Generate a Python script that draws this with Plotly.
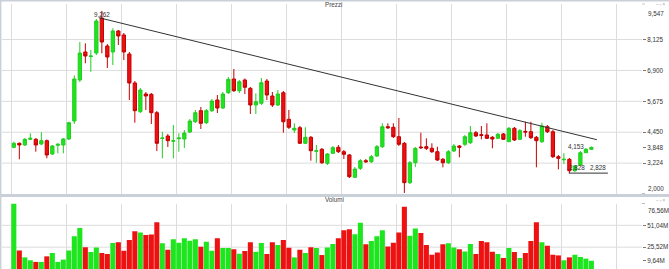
import plotly.graph_objects as go

# ---------------- data ----------------
opens = [3852, 4011, 3943, 4169, 4169, 3983, 4114, 3586, 3931, 3943,
         4181, 4895, 6521, 7632, 7453, 7592, 8980, 7870, 7632, 8465,
         8306, 7552, 6402, 5264, 5966, 5954, 5224, 4201, 4300, 4090,
         4193, 4181, 4459, 4867, 5304, 4828, 5304, 5728, 5411, 6018,
         6561, 6097, 6521, 6192, 5530, 5597, 6481, 5887, 5530, 6018,
         4963, 4538, 4629, 4011, 4249, 3693, 3773, 3218, 3614, 3852,
         3678, 3547, 2662, 3019, 3321, 3281, 3507, 3876, 4669, 4645,
         4272, 4011, 2448, 3241, 3864, 3876, 3812, 3678, 3376, 3241,
         3705, 3904, 3971, 4034, 4431, 4352, 4340, 4249, 4209, 4380,
         4074, 4606, 4169, 4483, 4471, 4249, 4074, 4669, 4471, 3479,
         3356, 3376, 2924, 3150, 3638, 3773]
closes = [4011, 3943, 4169, 4209, 3943, 4114, 3547, 3904, 3971, 4181,
          4828, 6561, 7592, 7473, 7473, 8861, 8028, 7433, 8465, 8266,
          7632, 6402, 5304, 6125, 5887, 5224, 4011, 4221, 4114, 4114,
          4221, 4419, 4895, 5224, 4804, 5304, 5688, 5411, 5966, 6549,
          6097, 6454, 6232, 5530, 5661, 6414, 5926, 5530, 5966, 4867,
          4645, 4606, 4011, 4249, 3717, 3717, 3241, 3586, 3836, 3678,
          3575, 2686, 2991, 3321, 3281, 3479, 3876, 4669, 4629, 4272,
          3971, 2448, 3241, 3812, 3836, 3812, 3678, 3348, 3241, 3678,
          3904, 3852, 4272, 4431, 4300, 4328, 4209, 4181, 4368, 4169,
          4606, 4142, 4510, 4459, 4233, 4114, 4697, 4471, 3479, 3416,
          3376, 2924, 3110, 3638, 3773, 3848]
highs = [4074, 4042, 4221, 4407, 4221, 4447, 4161, 3943, 4011, 4221,
         4867, 6700, 8028, 7977, 7711, 8940, 9262, 7949, 8572, 8504,
         8385, 7632, 6481, 6204, 6045, 6006, 5292, 4471, 4380, 4736,
         4407, 4538, 4974, 5331, 5450, 5371, 5768, 5926, 6045, 6640,
         6957, 6521, 6581, 6244, 5994, 6601, 6561, 6045, 6125, 6085,
         5331, 4804, 4697, 4645, 4300, 3943, 3824, 3626, 3904, 3943,
         3745, 3586, 3071, 3388, 3388, 3547, 3943, 4804, 4804, 4804,
         5014, 4062, 3309, 3864, 4431, 4209, 4011, 3876, 3428, 3745,
         3983, 3943, 4340, 4697, 4499, 4697, 4804, 4300, 4419, 4419,
         4657, 4657, 4578, 4867, 4867, 4300, 4828, 4736, 4538, 3547,
         3614, 3428, 3150, 3705, 3824, 3884]
lows = [3812, 3376, 3904, 4142, 3678, 3943, 3416, 3547, 3614, 3614,
        4142, 4776, 6442, 7184, 6850, 7513, 7580, 6997, 7116, 7909,
        7314, 5728, 4828, 5212, 5331, 4776, 3705, 3416, 3864, 3416,
        3678, 3824, 4419, 4816, 4578, 4776, 5252, 5212, 5371, 5966,
        6045, 6006, 5966, 5173, 5173, 5530, 5728, 5450, 5490, 4431,
        4578, 4419, 3983, 3983, 3321, 3241, 3190, 3150, 3586, 3626,
        3388, 2634, 2634, 2952, 3229, 3229, 3467, 3824, 4578, 4221,
        3904, 2040, 2397, 3071, 3785, 3745, 3626, 3309, 3059, 3190,
        3666, 3456, 3904, 3983, 4261, 4169, 4181, 3812, 4181, 4142,
        4062, 4102, 4142, 4272, 4181, 3059, 4023, 4419, 3428, 2980,
        3190, 2828, 2872, 3110, 3626, 3745]
volumes = [76.56, 21.6, 13.6, 10.2, 8.3, 8.3, 14.8, 18.6, 8.3, 11.0,
           21.6, 38.4, 48.0, 25.5, 19.8, 25.0, 18.6, 17.5, 30.4, 31.2,
           21.3, 33.9, 44.2, 42.7, 39.6, 40.4, 54.5, 30.0, 22.4, 34.7,
           30.8, 35.8, 33.0, 34.7, 25.9, 31.9, 21.3, 35.8, 24.4, 24.4,
           23.2, 17.8, 20.9, 31.2, 20.1, 30.4, 17.5, 31.2, 28.1, 33.9,
           24.7, 13.6, 22.4, 18.6, 25.5, 24.4, 16.3, 25.0, 29.3, 35.8,
           45.3, 46.4, 40.7, 54.1, 28.9, 32.7, 38.4, 45.3, 26.2, 30.8,
           42.7, 72.8, 38.8, 47.2, 42.2, 28.1, 16.7, 19.3, 28.9, 30.0,
           25.0, 23.2, 20.5, 29.3, 17.5, 32.7, 31.2, 20.1, 17.5, 12.9,
           24.4, 19.8, 12.9, 18.6, 32.7, 54.5, 31.2, 27.3, 16.7, 15.9,
           10.2, 13.6, 16.7, 14.1, 12.1, 9.64]
idx = list(range(len(opens)))

price_min, price_max = 2000, 9547
price_grid = [8125, 6900, 5675, 4450, 3224]
price_tickvals = [8125, 6900, 5675, 4450, 3848, 3224]
price_ticktext = ["8,125", "6,900", "5,675", "4,450", "3,848", "3,224"]
vol_max = 76.56
vol_grid = [51.04, 25.52]
vol_tickvals = [51.04, 25.52, 9.64]
vol_ticktext = ["51,04M", "25,52M", "9,64M"]

trend_x = [15.5, 106]
trend_y = [8990, 4153]
trend_labels = ["9,262", "4,153"]
support_x = [100.9, 108]
support_y = 2828
support_label = "2,828"

GREEN = "#1ee61e"
GREEN_LINE = "#22cc22"
RED = "#ee1111"
RED_LINE = "#c40000"
GRID = "#dcdcdc"
FONT = "Liberation Sans"
FS = 6.3

vol_colors = [GREEN if c >= o else RED for o, c in zip(opens, closes)]

fig = go.Figure()
fig.add_trace(go.Candlestick(
    x=idx, open=opens, high=highs, low=lows, close=closes,
    increasing=dict(fillcolor=GREEN, line=dict(color=GREEN_LINE, width=1)),
    decreasing=dict(fillcolor=RED, line=dict(color=RED_LINE, width=1)),
    whiskerwidth=0, xaxis="x", yaxis="y", showlegend=False, hoverinfo="skip"))
fig.add_trace(go.Bar(
    x=idx, y=volumes, marker=dict(color=vol_colors, line=dict(width=0)),
    xaxis="x2", yaxis="y2", showlegend=False, hoverinfo="skip"))
fig.add_trace(go.Scatter(x=trend_x, y=trend_y, mode="lines",
                         line=dict(color="#333333", width=1),
                         xaxis="x", yaxis="y", showlegend=False, hoverinfo="skip"))
fig.add_trace(go.Scatter(x=support_x, y=[support_y, support_y], mode="lines",
                         line=dict(color="#333333", width=1),
                         xaxis="x", yaxis="y", showlegend=False, hoverinfo="skip"))

W, H = 669, 269
L, R = 2, 27
PW = W - L - R
price_dom = [1 - 194 / H, 1 - 3.7 / H]
vol_dom = [0, 1 - 203.5 / H]
xrange = [-2.15, 114.2]

xcommon = dict(range=xrange, showgrid=True, gridcolor=GRID, gridwidth=1,
               tick0=-0.38, dtick=10, showticklabels=False, ticks="",
               zeroline=False, showline=False, fixedrange=True)

fig.update_layout(
    width=W, height=H, margin=dict(l=L, r=R, t=0, b=0),
    paper_bgcolor="white", plot_bgcolor="white",
    font=dict(family=FONT, size=FS, color="#333333"),
    boxgap=0.15, bargap=0.08,
    xaxis=dict(anchor="y", rangeslider=dict(visible=False), **xcommon),
    xaxis2=dict(anchor="y2", **xcommon),
    yaxis=dict(domain=price_dom, range=[price_min, price_max], side="right",
               showgrid=False, zeroline=False, tickvals=price_tickvals,
               ticktext=price_ticktext, ticks="outside", ticklen=3,
               tickcolor="#777777", tickfont=dict(size=FS, color="#333333"),
               fixedrange=True),
    yaxis2=dict(domain=vol_dom, range=[0, vol_max], side="right",
                showgrid=False, zeroline=False, tickvals=vol_tickvals,
                ticktext=vol_ticktext, ticks="outside", ticklen=3,
                tickcolor="#777777", tickfont=dict(size=FS, color="#333333"),
                fixedrange=True),
)

shapes = []
for g in price_grid:
    shapes.append(dict(type="line", xref="x domain", yref="y", x0=0, x1=1, y0=g, y1=g,
                       line=dict(color=GRID, width=1), layer="below"))
for g in vol_grid:
    shapes.append(dict(type="line", xref="x2 domain", yref="y2", x0=0, x1=1, y0=g, y1=g,
                       line=dict(color=GRID, width=1), layer="below"))
shapes.append(dict(type="rect", xref="paper", yref="paper", x0=-L / PW, x1=1 + R / PW,
                   y0=1 - 1.6 / H, y1=1, fillcolor="#c9d0d8", line=dict(width=0)))
shapes.append(dict(type="rect", xref="paper", yref="paper", x0=-L / PW, x1=1 + R / PW,
                   y0=1 - 197 / H, y1=1 - 194 / H, fillcolor="#c9d0d8", line=dict(width=0)))
shapes.append(dict(type="rect", xref="paper", yref="paper", x0=-L / PW, x1=-L / PW + 1.4 / PW,
                   y0=0, y1=1, fillcolor="#c9d0d8", line=dict(width=0)))
# tick marks for the axis limit labels
for yref, yv in (("y", price_max), ("y", price_min), ("y2", vol_max)):
    shapes.append(dict(type="line", xref="paper", yref=yref, x0=1, x1=1 + 3 / PW,
                       y0=yv, y1=yv, line=dict(color="#777777", width=1)))
fig.update_layout(shapes=shapes)

ann = []
ann.append(dict(text="Prezzi", xref="paper", yref="paper", x=0.519, y=1 - 4.8 / H,
                xanchor="center", yanchor="middle", showarrow=False,
                font=dict(size=FS, color="#444444")))
ann.append(dict(text="Volumi", xref="paper", yref="paper", x=0.519, y=1 - 199.8 / H,
                xanchor="center", yanchor="middle", showarrow=False,
                font=dict(size=FS, color="#444444")))
ann.append(dict(text="9,547", xref="paper", yref="y", x=1 + 4 / PW, y=price_max,
                xanchor="left", yanchor="top", showarrow=False, yshift=-4,
                font=dict(size=FS, color="#333333")))
ann.append(dict(text="2,000", xref="paper", yref="y", x=1 + 4 / PW, y=price_min,
                xanchor="left", yanchor="bottom", showarrow=False, yshift=0,
                font=dict(size=FS, color="#333333")))
ann.append(dict(text="76,56M", xref="paper", yref="y2", x=1 + 4 / PW, y=vol_max,
                xanchor="left", yanchor="top", showarrow=False, yshift=-1,
                font=dict(size=FS, color="#333333")))
for yy in (1 - 4.2 / H, 1 - 200.2 / H):
    ann.append(dict(text="‒ ▫ ×", xref="paper", yref="paper", x=1 + 26 / PW, y=yy,
                    xanchor="right", yanchor="middle", showarrow=False,
                    font=dict(size=4.5, color="#a0a0a0")))
ann.append(dict(text=trend_labels[0], xref="x", yref="y", x=trend_x[0] + 0.6, y=trend_y[0],
                xanchor="center", yanchor="bottom", showarrow=False, yshift=-2,
                font=dict(size=FS, color="#333333")))
ann.append(dict(text=trend_labels[1], xref="x", yref="y", x=trend_x[1] - 3.8, y=trend_y[1],
                xanchor="center", yanchor="top", showarrow=False, yshift=-1,
                font=dict(size=FS, color="#333333")))
ann.append(dict(text=support_label, xref="x", yref="y", x=support_x[0] + 1.5, y=support_y,
                xanchor="center", yanchor="bottom", showarrow=False,
                font=dict(size=FS, color="#333333")))
ann.append(dict(text=support_label, xref="x", yref="y", x=support_x[1] - 1.8, y=support_y,
                xanchor="center", yanchor="bottom", showarrow=False,
                font=dict(size=FS, color="#333333")))
fig.update_layout(annotations=ann)

fig.write_html("out.html")
